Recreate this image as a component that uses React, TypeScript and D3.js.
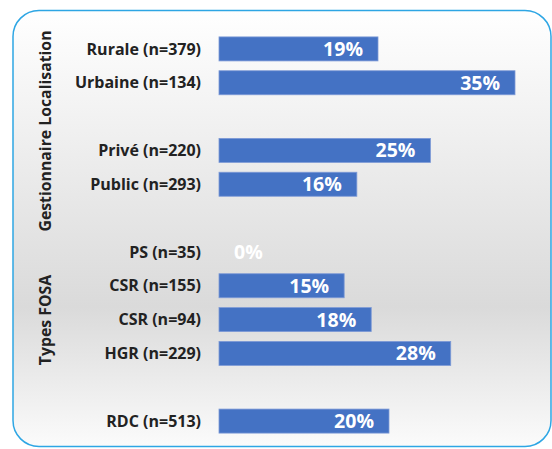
import * as React from "react"
import * as d3 from "d3"

const categories = [
  "Rurale (n=379)",
  "Urbaine (n=134)",
  "",
  "Privé (n=220)",
  "Public (n=293)",
  " ",
  "PS (n=35)",
  "CSR (n=155)",
  "CSR (n=94)",
  "HGR (n=229)",
  "  ",
  "RDC (n=513)",
]
const values: (number | null)[] = [18.8, 35.0, null, 25.0, 16.3, null, 0, 14.8, 18.0, 27.4, null, 20.1]
const labels = ["19%", "35%", "", "25%", "16%", "", "0%", "15%", "18%", "28%", "", "20%"]
const groups = [
  { name: "Gestionnaire Localisation", y: 131 },
  { name: "Types FOSA", y: 320 },
]

const W = 552
const H = 449
const font = "'Open Sans', sans-serif"

export default function App() {
  const x = d3.scaleLinear().domain([0, 35]).range([219, 515])
  const y = d3
    .scaleBand<string>()
    .domain(categories)
    .range([32, 438])
    .paddingInner(0.29)
    .paddingOuter(0.145)

  const bh = y.bandwidth()

  return (
    <svg
      width={W}
      height={H}
      style={{ position: "absolute", left: 0, top: 0, display: "block", background: "#fff" }}
    >
      <defs>
        <linearGradient id="bg" x1="0" y1="0" x2="0" y2="1">
          <stop offset="0" stopColor="#ffffff" />
          <stop offset="0.68" stopColor="#dadada" />
          <stop offset="1" stopColor="#fbfbfb" />
        </linearGradient>
      </defs>
      <rect x={13} y={10.5} width={538} height={436} rx={26} fill="url(#bg)" stroke="#2ea6e4" strokeWidth={1.5} />

      {groups.map((g) => (
        <text
          key={g.name}
          transform={`translate(51,${g.y}) rotate(-90)`}
          textAnchor="middle"
          fontFamily={font}
          fontWeight="bold"
          fontSize={15.8}
          fill="#222"
        >
          {g.name}
        </text>
      ))}

      {categories.map((c, i) => {
        const v = values[i]
        if (v === null) return null
        const y0 = y(c)!
        const cy = y0 + bh / 2
        const x1 = x(v)
        return (
          <g key={c}>
            <text
              x={201}
              y={cy}
              dy="0.35em"
              textAnchor="end"
              fontFamily={font}
              fontWeight="bold"
              fontSize={16}
              fill="#222"
            >
              {c.trim()}
            </text>
            {v > 0 && (
              <rect x={x(0)} y={y0} width={x1 - x(0)} height={bh} fill="#4472c4" stroke="#7d9ad6" strokeWidth={0.8} />
            )}
            <text
              x={v > 0 ? x1 - 15 : x(0) + 15}
              y={cy}
              dy="0.36em"
              textAnchor={v > 0 ? "end" : "start"}
              fontFamily={font}
              fontWeight="bold"
              fontSize={19.5}
              fill="#ffffff"
            >
              {labels[i]}
            </text>
          </g>
        )
      })}
    </svg>
  )
}
